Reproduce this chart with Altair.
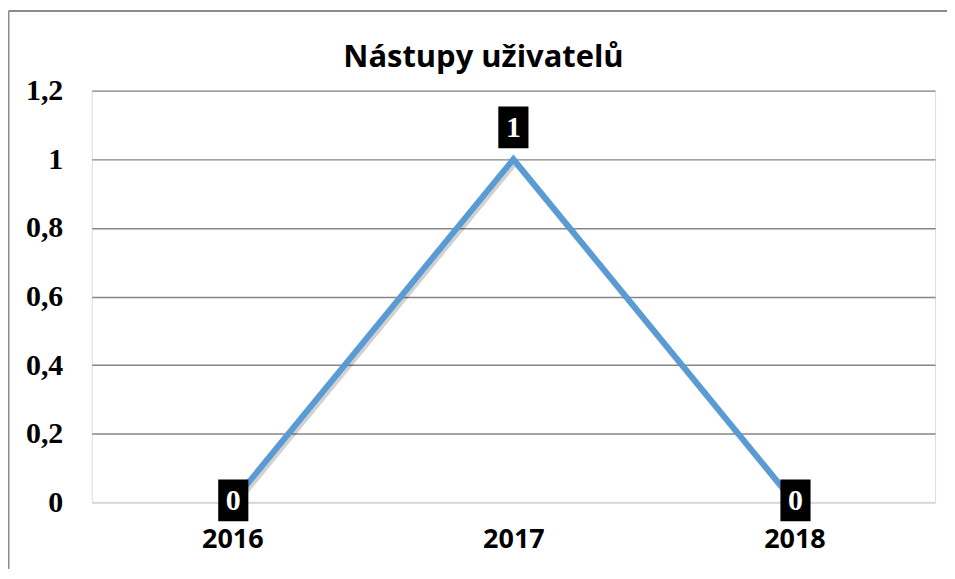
import altair as alt
import pandas as pd

years = ["2016", "2017", "2018"]
values = [0, 1, 0]
labels = ["0", "1", "0"]
y_ticks = [0, 0.2, 0.4, 0.6, 0.8, 1.0, 1.2]
title_text = "Nástupy uživatelů"

df = pd.DataFrame({"rok": years, "hodnota": values, "popisek": labels})

x_enc = alt.X("rok:N", sort=years,
              scale=alt.Scale(paddingInner=0, paddingOuter=0),
              axis=alt.Axis(title=None, labelAngle=0, labelFont="Open Sans",
                            labelFontWeight="bold", labelFontSize=27, labelColor="#000",
                            labelPadding=24, ticks=False, domain=True,
                            domainColor="#d9d9d9", domainWidth=2, grid=False))
y_enc = alt.Y("hodnota:Q", scale=alt.Scale(domain=[0, 1.2], nice=False),
              axis=alt.Axis(title=None, values=y_ticks, labelFont="Liberation Serif",
                            labelFontWeight="bold", labelFontSize=30, labelColor="#000",
                            labelPadding=29, ticks=False, domain=False,
                            labelExpr="replace(format(datum.value, '.1~f'), '.', ',')",
                            gridColor=alt.condition("datum.value === 0", alt.value("#d9d9d9"), alt.value("#868686")),
                            gridWidth=1.4))

base = alt.Chart(df)

shadow = base.mark_line(color="#000", opacity=0.18, strokeWidth=6, xOffset=2, yOffset=3).encode(x=x_enc, y=y_enc)
line = base.mark_line(color="#5B9BD5", strokeWidth=6).encode(x=x_enc, y=y_enc)

box_path = "M-0.72,-1H0.72V1H-0.72Z"
top_df = base.transform_filter("datum.hodnota > 0")
zero_df = base.transform_filter("datum.hodnota <= 0")

box_top = top_df.mark_point(shape=box_path, size=1764, filled=True, color="#000", opacity=1, yOffset=-32).encode(x=x_enc, y=y_enc)
txt_top = top_df.mark_text(font="Liberation Serif", fontWeight="bold", fontSize=30, color="#fff",
                           baseline="middle", yOffset=-31).encode(x=x_enc, y=y_enc, text="popisek:N")
box_zero = zero_df.mark_point(shape=box_path, size=1764, filled=True, color="#000", opacity=1, yOffset=-2, xOffset=1).encode(x=x_enc, y=y_enc)
txt_zero = zero_df.mark_text(font="Liberation Serif", fontWeight="bold", fontSize=30, color="#fff",
                             baseline="middle", yOffset=-1, xOffset=1).encode(x=x_enc, y=y_enc, text="popisek:N")

one = alt.Chart(pd.DataFrame({"f": [0]}))
frame_top = one.mark_rule(stroke="#8c8c8c", strokeWidth=2).encode(
    x=alt.value(-83.5), x2=alt.value(1000), y=alt.value(-80))
frame_left = one.mark_rule(stroke="#8c8c8c", strokeWidth=2).encode(
    x=alt.value(-83.5), y=alt.value(-80), y2=alt.value(600))

title = one.transform_calculate(t=f"'{title_text}'").mark_text(
    font="Open Sans", fontWeight="bold", fontSize=31, color="#000", baseline="middle", align="center"
).encode(x=alt.value(393), y=alt.value(-33), text="t:N")

chart = alt.layer(frame_top, frame_left, title, shadow, line, box_top, txt_top, box_zero, txt_zero).properties(
    width=846, height=413,
    padding={"left": 84, "top": 82, "right": 12, "bottom": 66},
    autosize=alt.AutoSizeParams(type="none"),
).configure_view(stroke=None).configure(background="#ffffff")

chart.save("out.html", embed_options={"renderer": "svg", "actions": False})
